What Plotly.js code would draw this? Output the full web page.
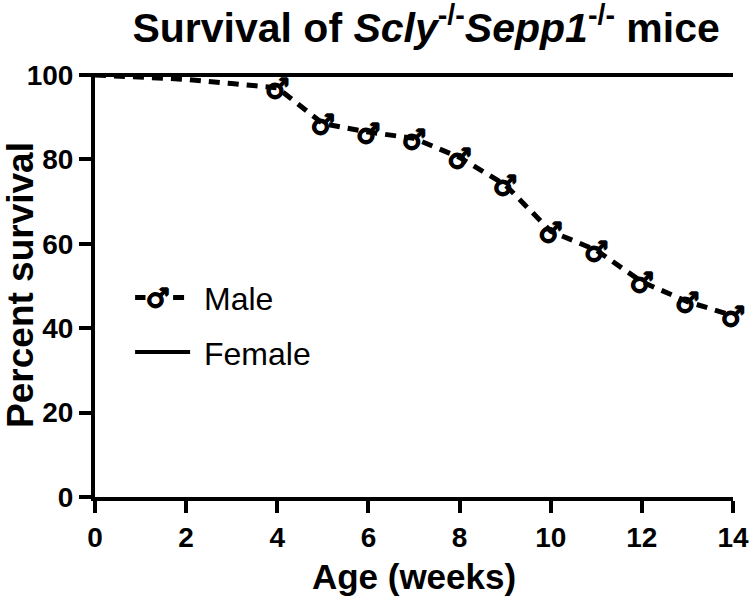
<!DOCTYPE html>
<html>
<head>
<meta charset="utf-8">
<script src="https://cdn.plot.ly/plotly-3.0.1.min.js"></script>
<style>html,body{margin:0;padding:0;background:#fff;}#chart{width:750px;height:598px;}</style>
</head>
<body>
<div id="chart"></div>
<script>
// Data
const weeks = [0, 1, 2, 3, 4, 5, 6, 7, 8, 9, 10, 11, 12, 13, 14];
const maleSurvival = [100, 99.5, 99, 98, 97, 88.5, 86.5, 85, 80.5, 74, 63, 58.5, 51, 46.3, 43];
const maleSymbolWeeks = [4, 5, 6, 7, 8, 9, 10, 11, 12, 13, 14];
const femaleWeeks = [0, 14];
const femaleSurvival = [100, 100];
const xTicks = [0, 2, 4, 6, 8, 10, 12, 14];
const yTicks = [0, 20, 40, 60, 80, 100];

const symY = maleSymbolWeeks.map(w => maleSurvival[weeks.indexOf(w)]);

const FONT = 'Liberation Sans, Arial, sans-serif';
const SYMBOL = '<span style="font-size:27px">\u2642</span>';
const thick = '1px 0 0 #000, -1px 0 0 #000, 0 1px 0 #000, 0 -1px 0 #000';

const traces = [
  {
    x: weeks, y: maleSurvival, name: '\u00a0Male', type: 'scatter', mode: 'lines',
    line: {color: '#000', width: 5, dash: '11px,8px'},
    cliponaxis: false, legendgroup: 'm', showlegend: true
  },
  {
    x: maleSymbolWeeks, y: symY, name: 'Male symbols', type: 'scatter', mode: 'text',
    text: maleSymbolWeeks.map(() => SYMBOL), textposition: 'middle center',
    textfont: {family: 'DejaVu Sans', size: 42, color: '#000', weight: 'bold', shadow: thick},
    cliponaxis: false, legendgroup: 'm', showlegend: false
  },
  {
    x: femaleWeeks, y: femaleSurvival, name: '\u00a0Female', type: 'scatter', mode: 'lines',
    line: {color: '#000', width: 4},
    cliponaxis: false, legendgroup: 'f'
  }
];

const layout = {
  width: 750, height: 598,
  margin: {l: 95, r: 17, t: 73, b: 101},
  paper_bgcolor: '#fff', plot_bgcolor: '#fff',
  font: {family: FONT, color: '#000'},
  title: {
    text: 'Survival of <i>Scly</i><sup>-/-</sup><i>Sepp1</i><sup>-/-</sup> mice',
    font: {family: FONT, size: 41, weight: 'bold', color: '#000'},
    x: 0.519, xref: 'paper', xanchor: 'center',
    y: 1 - 28 / 598, yref: 'container', yanchor: 'middle'
  },
  xaxis: {
    range: [0, 14], tickvals: xTicks, ticktext: xTicks.map(String),
    showgrid: false, zeroline: false, showline: true, linecolor: '#000', linewidth: 4,
    ticks: 'outside', ticklen: 12, tickwidth: 4, tickcolor: '#000',
    tickfont: {family: FONT, size: 28, weight: 'bold'},
    title: {text: 'Age (weeks)', font: {family: FONT, size: 35, weight: 'bold'}, standoff: 14}
  },
  yaxis: {
    range: [0, 100.5], tickvals: yTicks, ticktext: yTicks.map(String),
    showgrid: false, zeroline: false, showline: true, linecolor: '#000', linewidth: 4,
    ticks: 'outside', ticklen: 12, tickwidth: 4, tickcolor: '#000',
    tickfont: {family: FONT, size: 28, weight: 'bold'},
    title: {text: 'Percent survival', font: {family: FONT, size: 37, weight: 'bold'}, standoff: 1}
  },
  showlegend: true,
  legend: {
    x: 0.055, y: 0.535, xanchor: 'left', yanchor: 'top',
    bgcolor: 'rgba(0,0,0,0)', borderwidth: 0,
    font: {family: FONT, size: 32, color: '#000'},
    traceorder: 'grouped', tracegroupgap: 10, itemwidth: 55
  },
  annotations: [{
    // male symbol drawn over the legend's line sample
    text: '\u2642', xref: 'paper', yref: 'paper', x: 0.098, y: 0.47,
    xanchor: 'center', yanchor: 'middle', showarrow: false,
    bgcolor: '#fff', borderpad: 0,
    font: {family: 'DejaVu Sans', size: 26, color: '#000', weight: 'bold', shadow: thick}
  }]
};

Plotly.newPlot('chart', traces, layout, {displayModeBar: false, staticPlot: true});
</script>
</body>
</html>
